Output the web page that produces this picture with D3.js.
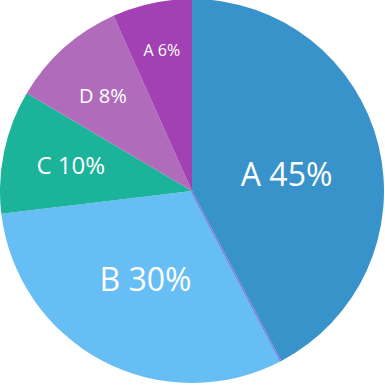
<!DOCTYPE html>
<html>
<head>
<meta charset="utf-8">
<script src="https://cdn.jsdelivr.net/npm/d3@7"></script>
<style>
html,body{margin:0;padding:0;background:#fff;}
svg{display:block;}
</style>
</head>
<body>
<svg id="chart" width="385" height="385"></svg>
<script>
// Data (angular shares, in %)
const categories = ["A", "B", "C", "D", "A"];
const values = [42.3, 30.8, 10.4, 9.8, 6.7];
const labels = ["A 45%", "B 30%", "C 10%", "D 8%", "A 6%"];
const colors = ["#3993cb", "#66bef4", "#1bb39a", "#b06cbb", "#a141b3"];
// label styling: font size (px) and radial distance as fraction of radius
const labelSizes = [32, 32, 24, 20, 16];
const labelRadii = [0.5, 0.52, 0.645, 0.677, 0.75];
const labelAngleShift = [4, 0, 0, -1.5, 0]; // degrees

const W = 385, H = 385, cx = 192, cy = 191, R = 192;
const svg = d3.select("#chart");
const g = svg.append("g").attr("transform", `translate(${cx},${cy})`);

const data = values.map((v, i) => ({cat: categories[i], value: v, label: labels[i], i}));
const pie = d3.pie().value(d => d.value).sort(null);
const arcs = pie(data);
const arc = d3.arc().innerRadius(0).outerRadius(R);

g.selectAll("path.slice").data(arcs).enter().append("path")
  .attr("class", "slice")
  .attr("d", arc)
  .attr("fill", d => colors[d.data.i]);

// thin purple seam on the A/B boundary
const seam = arcs[1].startAngle;
g.append("line")
  .attr("x1", 0).attr("y1", 0)
  .attr("x2", Math.sin(seam) * R).attr("y2", -Math.cos(seam) * R)
  .attr("stroke", "#a85ad0").attr("stroke-width", 1)
  .attr("transform", "translate(-0.6,0.2)");

g.selectAll("text.lbl").data(arcs).enter().append("text")
  .attr("class", "lbl")
  .attr("transform", d => {
    const a = (d.startAngle + d.endAngle) / 2 + labelAngleShift[d.data.i] * Math.PI / 180;
    const r = R * labelRadii[d.data.i];
    return `translate(${Math.sin(a) * r},${-Math.cos(a) * r})`;
  })
  .attr("text-anchor", "middle")
  .attr("dy", "0.357em")
  .attr("fill", "#ffffff")
  .style("font-family", "'Open Sans', 'Noto Sans', sans-serif")
  .style("font-size", d => labelSizes[d.data.i] + "px")
  .text(d => d.data.label);
</script>
</body>
</html>
